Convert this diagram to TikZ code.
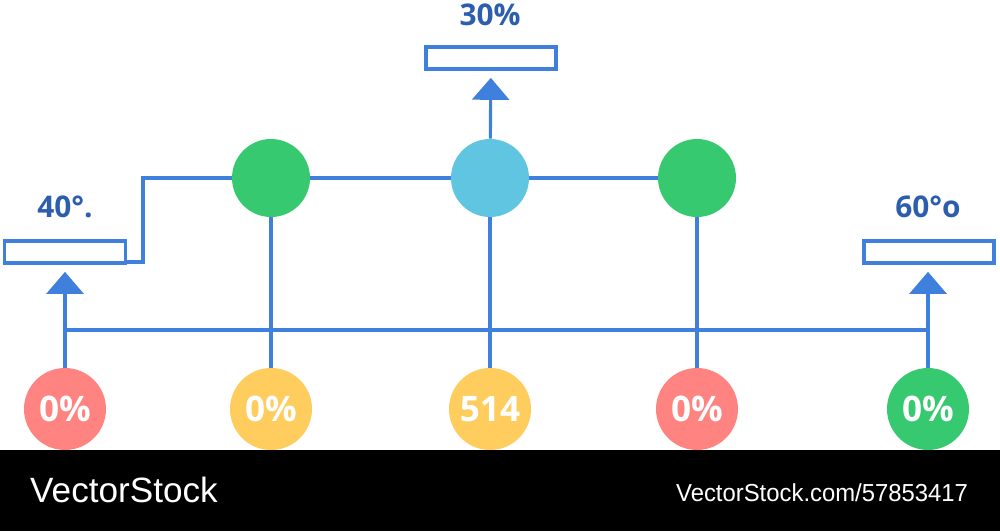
\documentclass[tikz,border=0pt]{standalone}
\usepackage{fontspec}
\setmainfont{Open Sans}
\newfontfamily\footfont{Liberation Sans}
\usetikzlibrary{arrows.meta}
\definecolor{wirec}{HTML}{3F80DC}
\definecolor{labelc}{HTML}{2C5EAD}
\definecolor{redc}{HTML}{FF8481}
\definecolor{yellowc}{HTML}{FECD5E}
\definecolor{greenc}{HTML}{36C96F}
\definecolor{bluec}{HTML}{5FC5E0}
\begin{document}
\begin{tikzpicture}[x=0.02cm,y=-0.02cm,
  wire/.style={draw=wirec,line width=1.8pt},
  up/.style={wire,-{Triangle[width=0.74cm,length=0.44cm]},shorten >=0.14cm},
  bar/.style={wire,line width=2.1pt,fill=white,minimum width=2.6cm,minimum height=0.44cm,inner sep=0cm},
  hub/.style={circle,minimum size=1.56cm,inner sep=0cm},
  pct/.style={circle,minimum size=1.64cm,inner sep=0cm,text=white,font=\bfseries\fontsize{20}{20}\selectfont},
  tag/.style={text=labelc,font=\bfseries\fontsize{17}{17}\selectfont}]
  \useasboundingbox (0,0) rectangle (1000,531);
  \fill[white] (0,0) rectangle (1000,450);
  \fill[black] (0,450) rectangle (1000,531);

  \node[bar] (barT) at (491,58) {};
  \node[bar,minimum width=2.42cm] (barL) at (65,252) {};
  \node[bar] (barR) at (929,252) {};
  \node[tag] (tagT) at (490,15) {30\%};
  \node[tag] (tagL) at (65,207) {40°.};
  \node[tag] (tagR) at (928,207) {60°o};

  \node[hub,fill=greenc] (m1) at (271,178) {};
  \node[hub,fill=bluec] (m2) at (490,178) {};
  \node[hub,fill=greenc] (m3) at (697,178) {};

  \node[pct,fill=redc] (b1) at (65,409) {0\%};
  \node[pct,fill=yellowc] (b2) at (271,409) {0\%};
  \node[pct,fill=yellowc] (b3) at (490,409) {514};
  \node[pct,fill=redc] (b4) at (697,409) {0\%};
  \node[pct,fill=greenc] (b5) at (928,409) {0\%};

  \coordinate (bend) at (143,178);
  \coordinate (busL) at (65,330);
  \coordinate (busR) at (928,330);

  \draw[wire] ([yshift=-0.2cm]barL.east) -| (bend) -- (m1);
  \draw[wire] (m1) -- (m2);
  \draw[wire] (m2) -- (m3);
  \draw[up] (m2) -- (barT);
  \draw[up] (b1) -- (barL);
  \draw[up] (b5) -- (barR.south -| b5);
  \draw[wire] (busL) -- (busR);
  \draw[wire] (m1) -- (b2);
  \draw[wire] (m2) -- (b3);
  \draw[wire] (m3) -- (b4);

  \node[text=white,anchor=west,font=\footfont\fontsize{20}{20}\selectfont] (brand) at (24,490) {VectorStock};
  \node[text=white,anchor=east,xscale=0.97,font=\footfont\fontsize{14}{14}\selectfont] (site) at (974,493) {VectorStock.com/57853417};
\end{tikzpicture}
\end{document}
